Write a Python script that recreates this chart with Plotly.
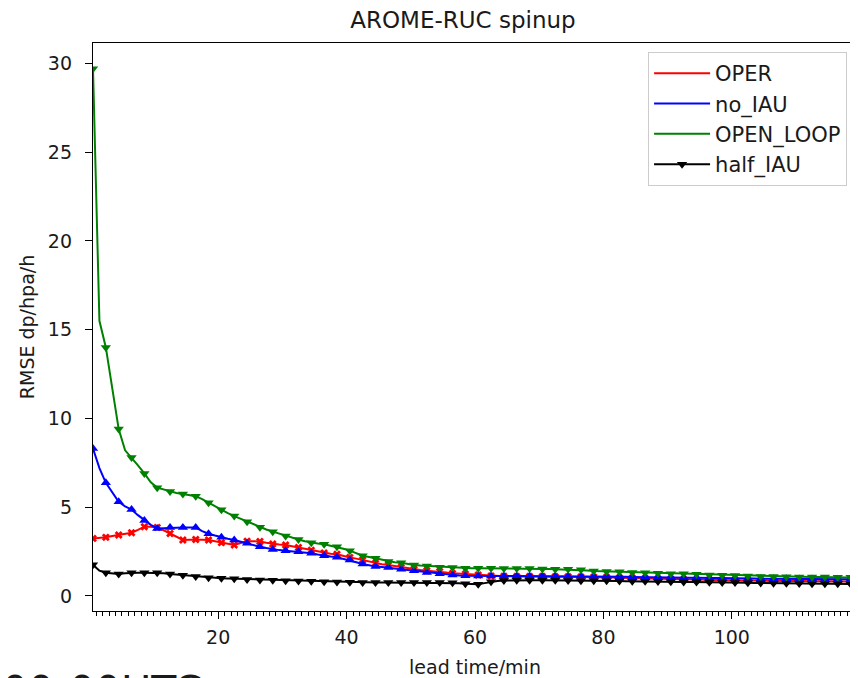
import plotly.graph_objects as go

lead_time = [i + 0.5 for i in range(120)]

oper = [
    3.24, 3.25, 3.30, 3.37, 3.43, 3.50, 3.56, 3.72, 3.90, 3.90,
    3.86, 3.70, 3.52, 3.30, 3.15, 3.16, 3.18, 3.17, 3.15, 3.08,
    3.00, 2.93, 2.87, 2.98, 3.08, 3.08, 3.07, 3.00, 2.93, 2.90,
    2.87, 2.80, 2.73, 2.65, 2.58, 2.50, 2.42, 2.38, 2.35, 2.25,
    2.17, 2.10, 2.02, 1.93, 1.84, 1.79, 1.74, 1.68, 1.61, 1.55,
    1.50, 1.46, 1.42, 1.40, 1.37, 1.32, 1.27, 1.25, 1.24, 1.21,
    1.18, 1.15, 1.12, 1.12, 1.11, 1.11, 1.10, 1.10, 1.10, 1.09,
    1.09, 1.09, 1.08, 1.08, 1.08, 1.08, 1.07, 1.07, 1.06, 1.06,
    1.05, 1.04, 1.03, 1.02, 1.01, 1.00, 0.99, 0.98, 0.97, 0.96,
    0.95, 0.94, 0.93, 0.92, 0.91, 0.90, 0.90, 0.89, 0.89, 0.88,
    0.88, 0.87, 0.87, 0.86, 0.86, 0.86, 0.85, 0.85, 0.85, 0.84,
    0.84, 0.84, 0.83, 0.83, 0.83, 0.82, 0.82, 0.82, 0.81, 0.81,
]

no_iau = [
    8.30, 7.20, 6.37, 5.80, 5.30, 5.05, 4.87, 4.55, 4.25, 4.00,
    3.80, 3.82, 3.85, 3.86, 3.86, 3.86, 3.86, 3.65, 3.50, 3.40,
    3.30, 3.22, 3.15, 3.05, 2.96, 2.86, 2.77, 2.70, 2.62, 2.58,
    2.55, 2.52, 2.49, 2.45, 2.40, 2.33, 2.26, 2.22, 2.18, 2.10,
    2.02, 1.90, 1.80, 1.72, 1.66, 1.63, 1.60, 1.55, 1.50, 1.46,
    1.42, 1.37, 1.32, 1.28, 1.25, 1.21, 1.18, 1.15, 1.13, 1.12,
    1.12, 1.12, 1.12, 1.12, 1.12, 1.12, 1.12, 1.12, 1.12, 1.12,
    1.12, 1.12, 1.12, 1.11, 1.11, 1.11, 1.11, 1.10, 1.10, 1.10,
    1.09, 1.09, 1.08, 1.08, 1.07, 1.07, 1.06, 1.06, 1.05, 1.05,
    1.04, 1.04, 1.03, 1.03, 1.02, 1.02, 1.01, 1.01, 1.00, 1.00,
    0.99, 0.99, 0.98, 0.98, 0.97, 0.97, 0.97, 0.96, 0.96, 0.96,
    0.95, 0.95, 0.95, 0.95, 0.94, 0.94, 0.94, 0.94, 0.94, 0.94,
]

open_loop = [
    29.70, 15.50, 14.00, 11.60, 9.40, 8.20, 7.80, 7.35, 6.90, 6.40,
    6.10, 6.00, 5.88, 5.80, 5.74, 5.68, 5.62, 5.45, 5.25, 5.05,
    4.85, 4.66, 4.50, 4.34, 4.18, 4.02, 3.87, 3.74, 3.62, 3.50,
    3.38, 3.28, 3.18, 3.08, 3.00, 2.95, 2.91, 2.84, 2.77, 2.66,
    2.55, 2.40, 2.26, 2.19, 2.12, 2.02, 1.94, 1.90, 1.87, 1.80,
    1.74, 1.71, 1.69, 1.65, 1.62, 1.61, 1.60, 1.58, 1.56, 1.56,
    1.56, 1.56, 1.56, 1.55, 1.55, 1.55, 1.55, 1.55, 1.54, 1.53,
    1.52, 1.51, 1.50, 1.50, 1.50, 1.49, 1.48, 1.43, 1.40, 1.39,
    1.38, 1.37, 1.36, 1.34, 1.32, 1.31, 1.30, 1.28, 1.27, 1.26,
    1.25, 1.25, 1.25, 1.23, 1.22, 1.20, 1.18, 1.17, 1.16, 1.15,
    1.15, 1.13, 1.12, 1.11, 1.10, 1.10, 1.10, 1.09, 1.08, 1.07,
    1.07, 1.06, 1.06, 1.06, 1.06, 1.05, 1.05, 1.05, 1.05, 1.04,
]

half_iau = [
    1.75, 1.42, 1.30, 1.26, 1.24, 1.27, 1.31, 1.31, 1.31, 1.31,
    1.31, 1.27, 1.23, 1.20, 1.17, 1.13, 1.09, 1.05, 1.02, 1.00,
    0.99, 0.98, 0.97, 0.95, 0.93, 0.92, 0.90, 0.89, 0.88, 0.87,
    0.86, 0.85, 0.84, 0.83, 0.82, 0.81, 0.80, 0.79, 0.78, 0.77,
    0.77, 0.76, 0.76, 0.75, 0.75, 0.75, 0.75, 0.75, 0.75, 0.75,
    0.75, 0.75, 0.75, 0.75, 0.75, 0.74, 0.74, 0.71, 0.68, 0.66,
    0.66, 0.72, 0.80, 0.84, 0.87, 0.88, 0.88, 0.88, 0.88, 0.88,
    0.88, 0.88, 0.88, 0.87, 0.87, 0.87, 0.86, 0.86, 0.86, 0.85,
    0.85, 0.84, 0.84, 0.83, 0.83, 0.82, 0.82, 0.81, 0.81, 0.80,
    0.80, 0.79, 0.79, 0.78, 0.78, 0.77, 0.77, 0.76, 0.76, 0.75,
    0.75, 0.74, 0.74, 0.73, 0.73, 0.72, 0.72, 0.71, 0.71, 0.70,
    0.70, 0.70, 0.69, 0.69, 0.69, 0.68, 0.68, 0.68, 0.67, 0.67,
]

series_names = ["OPER", "no_IAU", "OPEN_LOOP", "half_IAU"]
series_values = [oper, no_iau, open_loop, half_iau]
series_colors = ["#ff0000", "#0000ff", "#008000", "#000000"]
series_symbols = ["x", "triangle-up", "triangle-down", "triangle-down"]
series_msize = [7, 9, 9, 9]
legend_has_marker = [False, False, False, True]

FONT = "DejaVu Sans"
TXT = "#1a1a1a"

fig = go.Figure()

for k, (name, vals, col, sym, ms, lm) in enumerate(
        zip(series_names, series_values, series_colors, series_symbols,
            series_msize, legend_has_marker)):
    fig.add_trace(go.Scatter(
        x=lead_time, y=vals, mode="lines", name=name,
        line=dict(color=col, width=2),
        showlegend=not lm, legendgroup=name, legendrank=k + 1,
        hoverinfo="skip"))
    fig.add_trace(go.Scatter(
        x=lead_time[::2], y=vals[::2], mode="markers", name=name,
        marker=dict(color=col, symbol=sym, size=ms, line=dict(width=0)),
        showlegend=False, legendgroup=name, hoverinfo="skip"))
    if lm:
        fig.add_trace(go.Scatter(
            x=[None], y=[None], mode="lines+markers", name=name,
            line=dict(color=col, width=2),
            marker=dict(color=col, symbol=sym, size=ms),
            showlegend=True, legendgroup=name, legendrank=k + 1))

axis_common = dict(
    showline=True, linecolor="black", linewidth=1.3, mirror=True,
    showgrid=False, zeroline=False, automargin=False,
    ticks="outside", ticklen=7, tickwidth=1.3, tickcolor="black",
    tickfont=dict(family=FONT, size=19, color=TXT),
)

fig.update_xaxes(
    range=[0.5, 119.5], tick0=0, dtick=20, ticklabelstandoff=2,
    minor=dict(ticks="outside", ticklen=4, tickwidth=1, tickcolor="black", dtick=1, tick0=0),
    title=dict(text="lead time/min", font=dict(family=FONT, size=19, color=TXT), standoff=14),
    **axis_common)
fig.update_yaxes(
    range=[-0.85, 31.15], tick0=0, dtick=5, ticklabelstandoff=9,
    title=dict(text="RMSE dp/hpa/h", font=dict(family=FONT, size=19, color=TXT), standoff=8),
    **axis_common)

fig.update_layout(
    width=850, height=670,
    margin=dict(l=85, r=1, t=35, b=67, autoexpand=False),
    paper_bgcolor="white", plot_bgcolor="white",
    font=dict(family=FONT, color=TXT),
    title=dict(text="AROME-RUC spinup", x=0.4843, xref="paper", xanchor="center",
               y=0.982, yref="container", yanchor="middle",
               font=dict(family=FONT, size=23, color=TXT)),
    legend=dict(x=0.987, xanchor="right", y=0.984, yanchor="top",
                bgcolor="rgba(255,255,255,0.8)", bordercolor="#cccccc", borderwidth=1,
                font=dict(family=FONT, size=21, color=TXT),
                itemwidth=56, tracegroupgap=13, traceorder="normal",
                entrywidth=135, entrywidthmode="pixels"),
    annotations=[dict(text="00-00UTC", xref="paper", yref="paper",
                      x=-0.1217, y=-0.095, xanchor="left", yanchor="top",
                      showarrow=False, font=dict(family=FONT, size=41, color=TXT))],
)

fig.write_html("out.html")
